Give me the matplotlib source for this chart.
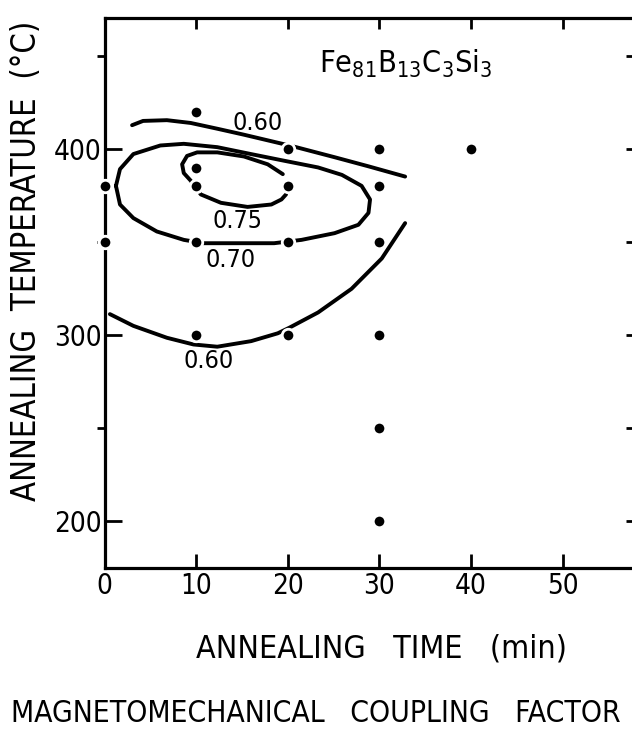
import numpy as np
import matplotlib
matplotlib.use('Agg')
import matplotlib.pyplot as plt
from matplotlib import font_manager

# pick a narrow sans font if there is one
names = {f.name for f in font_manager.fontManager.ttflist}
if 'Liberation Sans Narrow' in names:
    FONT, STRETCH = 'Liberation Sans Narrow', 'normal'
else:
    FONT, STRETCH = 'DejaVu Sans', 'condensed'
plt.rcParams['font.family'] = [FONT, 'DejaVu Sans']
plt.rcParams['font.stretch'] = STRETCH

# measured samples (annealing time in min, temperature in C)
pts_time = [0, 0, 10, 10, 10, 10, 10, 20, 20, 20, 20, 30, 30, 30, 30, 30, 30, 40]
pts_temp = [380, 350, 420, 390, 380, 350, 300, 400, 380, 350, 300, 400, 380, 350, 300, 250, 200, 400]

# iso-lines of the coupling factor
k060_top_t = [3.0, 4.2, 6.8, 9.4, 12.3, 15.2, 19.4, 20.9, 25.1, 28.8, 32.8]
k060_top_T = [412.9, 415.2, 415.6, 414.1, 411.0, 407.8, 402.9, 401.1, 395.7, 390.8, 385.3]

k070_t = [1.24, 1.68, 3.14, 6.08, 8.64, 12.3, 15.97, 19.6, 23.3, 25.9, 28.05, 28.97, 28.8,
          27.7, 25.1, 21.5, 18.5, 14.1, 10.8, 8.64, 5.7, 3.14, 1.68, 1.24]
k070_T = [380.3, 389.3, 397.4, 402.0, 402.9, 401.1, 397.4, 393.8, 390.2, 386.2, 380.3, 373.0, 365.8,
          359.4, 354.9, 351.3, 349.5, 349.5, 349.5, 351.3, 355.8, 363.0, 370.3, 380.3]

k075_t = [19.45, 17.8, 15.2, 12.3, 10.1, 9.0, 8.46, 8.64, 9.4, 10.5, 12.7, 15.6, 18.2, 19.3, 19.8]
k075_T = [386.6, 391.9, 396.1, 398.3, 398.3, 396.4, 391.9, 387.2, 383.1, 375.7, 371.2, 369.0, 370.3, 373.0, 375.7]

k060_low_t = [0.58, 3.14, 6.8, 9.7, 12.3, 16.0, 18.9, 20.2, 23.3, 26.95, 30.25, 32.8]
k060_low_T = [311.4, 305.1, 298.7, 295.1, 293.9, 296.9, 301.1, 304.2, 312.3, 325.0, 341.3, 360.3]

line_labels = ['0.60', '0.75', '0.70', '0.60']
label_t = [16.7, 14.5, 13.8, 11.3]
label_T = [414.1, 361.2, 340.4, 286.0]

fig = plt.figure(figsize=(6.32, 7.40), dpi=100)
ax = fig.add_axes([0.1655, 0.2324, 0.838, 0.7433])

for t, T in [(k060_top_t, k060_top_T), (k070_t, k070_T), (k075_t, k075_T), (k060_low_t, k060_low_T)]:
    ax.plot(t, T, color='black', lw=2.8, solid_capstyle='round', solid_joinstyle='round', zorder=2)

# white rim leaves the small gaps where the curves meet the dots
ax.plot(pts_time, pts_temp, 'o', color='black', ms=9, mec='white', mew=2,
        clip_on=False, zorder=4)

for s, t, T in zip(line_labels, label_t, label_T):
    ax.text(t, T, s, fontsize=18, ha='center', va='center')

ax.text(23.4, 441, r'Fe$_{\mathregular{81}}$B$_{\mathregular{13}}$C$_{\mathregular{3}}$Si$_{\mathregular{3}}$',
        fontsize=22, ha='left', va='baseline')

ax.set_xlim(0, 57.8)
ax.set_ylim(175, 470.5)
ax.set_xticks([0, 10, 20, 30, 40, 50])
ax.set_yticks([200, 300, 400])
ax.set_yticks([250, 350, 450], minor=True)
ax.tick_params(axis='both', labelsize=20, width=2, direction='in')
ax.tick_params(axis='x', length=10, pad=3)
ax.tick_params(axis='y', which='major', length=12, pad=2)
ax.tick_params(axis='y', which='minor', length=6, width=2)
ax.spines['right'].set_visible(False)
ax.spines['top'].set_visible(False)
for side in ['left', 'bottom']:
    ax.spines[side].set_linewidth(2.3)

top = ax.secondary_xaxis('top')
top.set_xticks([10, 20, 30, 40, 50])
top.tick_params(direction='in', length=8, width=2, labeltop=False)
top.spines['top'].set_linewidth(2.3)

right = ax.secondary_yaxis('right')
right.set_yticks([200, 250, 300, 350, 400, 450])
right.tick_params(direction='in', length=6, width=2, labelright=False)

fig.text(27 / 632, 1 - 261 / 740, 'ANNEALING  TEMPERATURE  (°C)', rotation=90,
         fontsize=23.5, ha='center', va='center')
fig.text(382 / 632, 1 - 649 / 740, 'ANNEALING   TIME   (min)', fontsize=23,
         ha='center', va='center')
fig.text(316 / 632, 1 - 713 / 740, 'MAGNETOMECHANICAL   COUPLING   FACTOR', fontsize=21.5,
         ha='center', va='center')

fig.savefig('out.png', dpi=100)
